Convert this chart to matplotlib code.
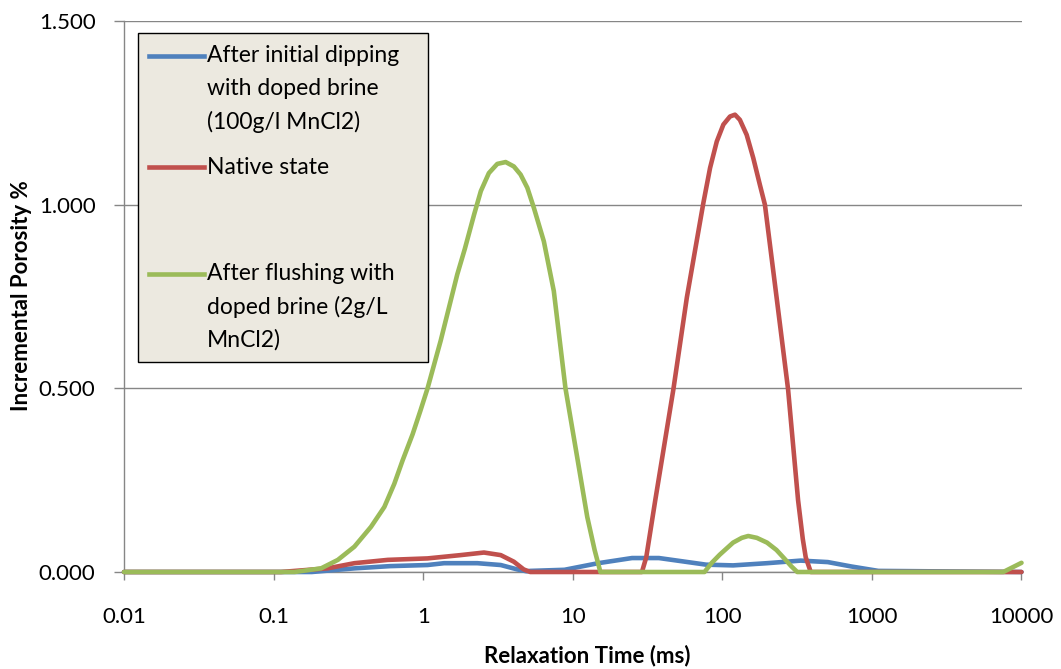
import matplotlib
matplotlib.use("Agg")
import matplotlib.pyplot as plt
from matplotlib.patches import Rectangle

plt.rcParams['font.family'] = ['Lato', 'DejaVu Sans']

blue_t = [0.01, 0.18, 0.35, 0.6, 1.07, 1.38, 2.3, 3.3, 4.26, 4.9, 5.2, 8.8, 14.8, 24.9, 37.7,
          54.2, 77.8, 118, 199, 334, 507, 729, 1105, 10000]
blue_p = [0.0, 0.0, 0.01, 0.016, 0.019, 0.024, 0.024, 0.019, 0.007, 0.002, 0.003, 0.006,
          0.024, 0.038, 0.038, 0.029, 0.02, 0.018, 0.024, 0.031, 0.027, 0.015, 0.003, 0.0]

red_t = [0.01, 0.112, 0.23, 0.347, 0.58, 1.07, 1.78, 2.55, 3.3, 4.04, 4.7, 5.2, 29, 31,
         35.6, 47.1, 57.9, 66, 74.7, 82.8, 91.8, 101.6, 112.5, 121.5, 131, 145.5, 161, 178,
         192.6, 230.6, 275, 321, 345, 361, 390, 10000]
red_p = [0.0, 0.0, 0.01, 0.024, 0.033, 0.037, 0.046, 0.053, 0.046, 0.028, 0.007, 0.0,
         0.0, 0.04, 0.195, 0.498, 0.747, 0.88, 1.005, 1.10, 1.172, 1.218, 1.24, 1.245, 1.231,
         1.19, 1.127, 1.055, 1.0, 0.747, 0.498, 0.195, 0.09, 0.04, 0.0, 0.0]

green_t = [0.01, 0.138, 0.208, 0.269, 0.347, 0.448, 0.55, 0.641, 0.729, 0.85, 0.96, 1.07,
           1.31, 1.69, 1.9, 2.19, 2.43, 2.75, 3.13, 3.56, 4.04, 4.48, 4.97, 5.5, 6.41, 7.47,
           8.94, 10.7, 12.5, 14.0, 15.3, 76, 85, 96, 118, 135, 149, 170, 199, 230, 258, 290,
           317, 7550, 10000]
green_p = [0.0, 0.0, 0.01, 0.033, 0.069, 0.123, 0.177, 0.24, 0.304, 0.375, 0.44, 0.5,
           0.63, 0.81, 0.88, 0.973, 1.037, 1.086, 1.111, 1.116, 1.104, 1.082, 1.046, 0.991,
           0.9, 0.765, 0.5, 0.313, 0.15, 0.06, 0.0, 0.0, 0.025, 0.047, 0.08, 0.093, 0.098,
           0.093, 0.08, 0.06, 0.038, 0.015, 0.0, 0.0, 0.025]

x_ticks = [0.01, 0.1, 1, 10, 100, 1000, 10000]
x_labels = ['0.01', '0.1', '1', '10', '100', '1000', '10000']
y_ticks = [0.0, 0.5, 1.0, 1.5]

legend_lines = [
    ('#4F81BD', ['After initial dipping', 'with doped brine', '(100g/l MnCl2)'], 55.5),
    ('#C0504D', ['Native state'], 167),
    ('#9BBB59', ['After flushing with', 'doped brine (2g/L', 'MnCl2)'], 273.5),
]

W, H = 1061, 669
fig = plt.figure(figsize=(W / 100, H / 100), dpi=100)
ax = fig.add_axes([124 / W, 1 - 572 / H, (1021.5 - 124) / W, (572 - 21) / H])

grey = '#868686'
ax.set_xscale('log')
ax.set_xlim(0.01, 10000)
ax.set_ylim(0, 1.5)
ax.set_xticks(x_ticks)
ax.set_xticklabels(x_labels)
ax.minorticks_off()
ax.set_yticks(y_ticks)
ax.set_yticklabels(['%.3f' % v for v in y_ticks])
ax.grid(axis='y', color=grey, lw=1)
ax.set_axisbelow(True)
for s in ['top', 'right']:
    ax.spines[s].set_visible(False)
for s in ['left', 'bottom']:
    ax.spines[s].set_color(grey)
    ax.spines[s].set_linewidth(1)
ax.tick_params(axis='y', direction='out', length=7, width=1, color=grey, pad=13.5,
               labelsize=16, labelcolor='black')
ax.tick_params(axis='x', direction='out', length=6, width=1, color=grey, pad=19,
               labelsize=16, labelcolor='black')

style = dict(lw=3.3, clip_on=False, zorder=3, solid_joinstyle='round',
             solid_capstyle='round')
ax.plot(blue_t, blue_p, color='#4F81BD', **style)
ax.plot(red_t, red_p, color='#C0504D', **style)
ax.plot(green_t, green_p, color='#9BBB59', **style)


def fx(px):
    return px / W


def fy(py):
    return 1 - py / H


# Excel-style legend box
fig.patches.append(Rectangle((fx(138), fy(362)), (428 - 138) / W, (362 - 33) / H,
                             transform=fig.transFigure, facecolor='#ECE9E0',
                             edgecolor='black', lw=1, zorder=5))
for color, lines, y0 in legend_lines:
    fig.add_artist(plt.Line2D([fx(149), fx(204)], [fy(y0), fy(y0)], color=color, lw=3.3,
                              transform=fig.transFigure, zorder=6))
    for i, t in enumerate(lines):
        fig.text(fx(207), fy(y0 + i * 33), t, fontsize=16.5, va='center', ha='left',
                 zorder=7)

fig.text(fx(22), fy(296), 'Incremental Porosity %', rotation=90, fontsize=16,
         fontweight='bold', ha='center', va='center')
fig.text(fx(587), fy(656), 'Relaxation Time (ms)', fontsize=16, fontweight='bold',
         ha='center', va='center')

fig.savefig('out.png', dpi=100)
